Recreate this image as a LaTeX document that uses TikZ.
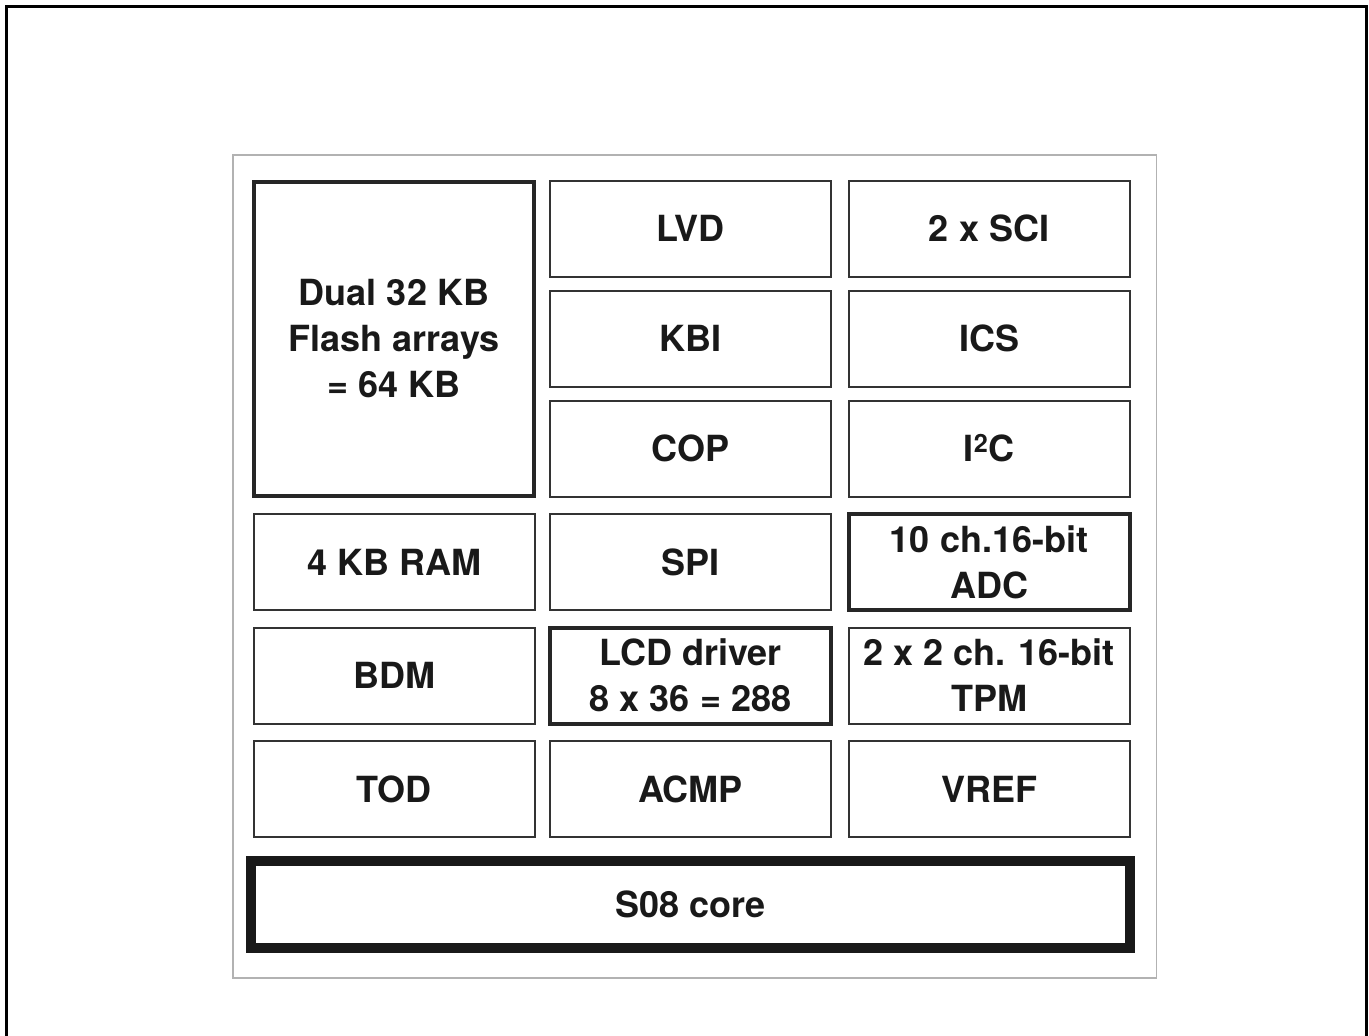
\documentclass[tikz,border=0pt]{standalone}
\usepackage{fontspec}
\setmainfont{TeX Gyre Heros}
\usetikzlibrary{positioning}

\begin{document}
\begin{tikzpicture}[x=1pt, y=-1pt, node distance=14pt and 15.5pt]
        % Styles
        \tikzstyle{block} = [rectangle, draw=black!80, line width=2pt, outer sep=0pt,
            inner sep=0pt, minimum width=281pt, minimum height=96pt, align=center,
            text=black!90, font=\fontsize{36}{46}\selectfont\bfseries]
        \tikzstyle{thickblock} = [block, draw=black!85, line width=4pt]
        \tikzstyle{coreblock} = [block, draw=black!90, line width=10pt,
            minimum width=879pt, minimum height=87pt]

        % Frames
        \useasboundingbox (0,0) rectangle (1369,1036);
        \draw [line width=3pt] (6,1040) -- (6,6) -- (1366.5,6) -- (1366.5,1040);
        \draw [gray!60, line width=1.6pt] (233,155) rectangle (1156.5,978);

        % Nodes
        \node [block] (lvd) at (690.5,228.5) {LVD};
        \node [block, below=of lvd] (kbi) {KBI};
        \node [block, below=of kbi] (cop) {COP};
        \node [block, right=17.5pt of lvd] (sci) {2 x SCI};
        \node [block, right=17.5pt of kbi] (ics) {ICS};
        \node [block, right=17.5pt of cop] (iic) {I\textsuperscript{2}C};
        \node [thickblock, minimum width=280pt, minimum height=314pt,
            left=16pt of kbi] (flash) {Dual 32 KB\\Flash arrays\\= 64 KB};

        \node [block, below=17.5pt of cop] (spi) {SPI};
        \node [block, left=of spi] (ram) {4 KB RAM};
        \node [thickblock, right=17.5pt of spi] (adc) {10 ch.16-bit\\ADC};

        \node [thickblock, below=17.5pt of spi] (lcd) {LCD driver\\8 x 36 = 288};
        \node [block, left=of lcd] (bdm) {BDM};
        \node [block, right=17.5pt of lcd] (tpm) {2 x 2 ch. 16-bit\\TPM};

        \node [block, below=17.5pt of lcd] (acmp) {ACMP};
        \node [block, left=of acmp] (tod) {TOD};
        \node [block, right=17.5pt of acmp] (vref) {VREF};

        \node [coreblock, below=23.5pt of acmp] (core) {S08 core};
    \end{tikzpicture}
\end{document}
